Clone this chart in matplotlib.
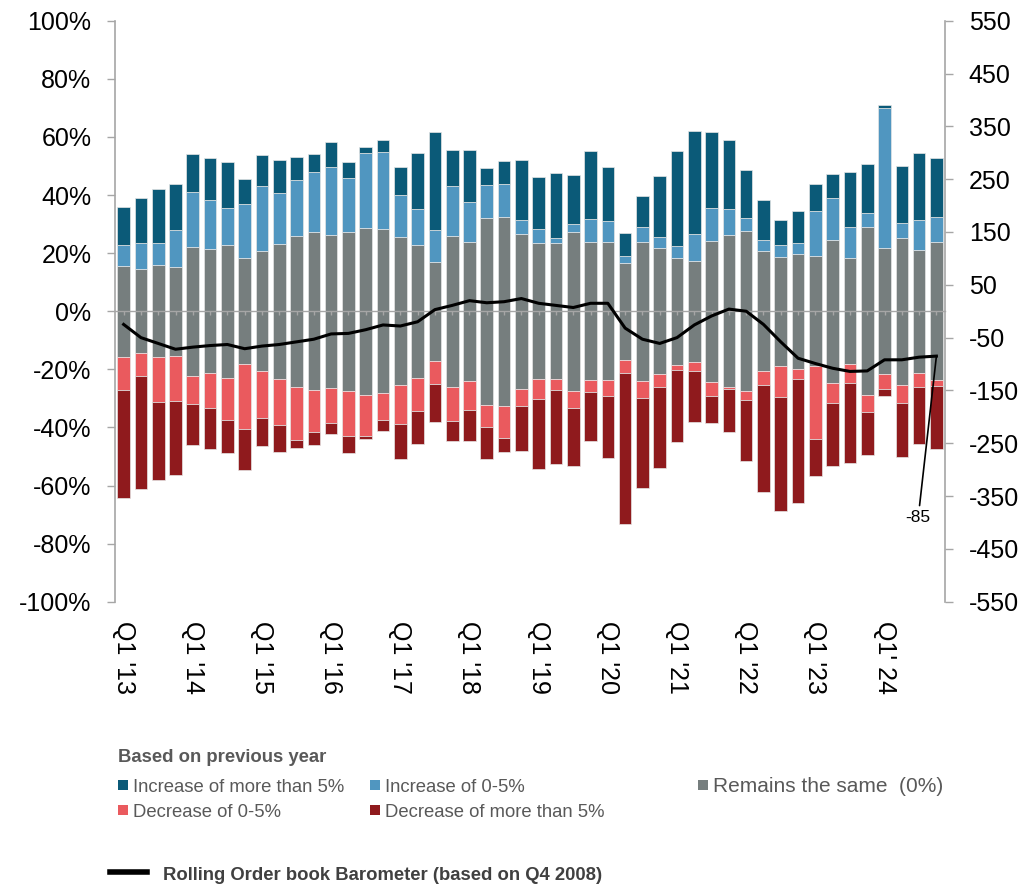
import matplotlib
matplotlib.use('Agg')
import numpy as np
import matplotlib.pyplot as plt
from matplotlib.patches import Rectangle
from matplotlib.lines import Line2D
from matplotlib.ticker import FuncFormatter

plt.rcParams['font.family'] = ['Liberation Sans', 'DejaVu Sans']
plt.rcParams['axes.unicode_minus'] = False

# quarters Q1 2013 .. Q4 2024
quarters = ["Q%d '%02d" % (q, y) for y in range(13, 25) for q in range(1, 5)]
quarters[44] = "Q1' 24"

# share of respondents (%) per answer, per quarter
inc_more_5 = [13.1, 15.3, 18.6, 15.9, 13.1, 14.4, 15.9, 8.9, 10.9, 11.3, 7.8, 6.3,
              8.6, 5.5, 1.9, 4.3, 9.7, 19.3, 33.9, 12.3, 17.8, 6.0, 7.7, 20.6,
              17.7, 22.3, 16.7, 23.7, 18.8, 7.6, 10.6, 21.1, 32.8, 35.7, 26.3, 23.7,
              16.5, 13.8, 8.7, 10.7, 9.3, 8.2, 18.9, 17.0, 1.0, 19.8, 23.1, 20.6]
inc_0_5 = [7.3, 9.2, 7.5, 12.5, 18.7, 17.2, 12.6, 18.6, 22.3, 17.4, 19.1, 20.6,
           23.2, 18.4, 25.8, 26.4, 14.4, 12.2, 10.8, 17.2, 13.8, 11.1, 11.3, 4.7,
           4.9, 1.9, 2.8, 7.9, 7.2, 2.4, 5.1, 3.8, 3.9, 9.1, 11.1, 9.1,
           4.6, 3.7, 3.9, 3.8, 15.5, 14.4, 10.8, 4.8, 48.2, 5.0, 10.3, 8.6]
same = [31.2, 28.8, 31.7, 30.7, 44.4, 42.5, 45.8, 36.3, 41.4, 46.5, 52.1, 54.5,
        52.6, 54.7, 57.6, 56.6, 51.0, 45.8, 34.0, 52.1, 47.8, 64.4, 65.2, 53.3,
        46.9, 46.8, 54.6, 47.4, 47.4, 33.5, 47.7, 43.2, 36.9, 34.7, 48.6, 52.5,
        55.1, 41.4, 37.6, 39.7, 37.7, 49.1, 36.4, 57.7, 43.5, 50.6, 42.2, 47.4]
dec_0_5 = [11.5, 7.8, 15.3, 15.4, 9.6, 12.0, 14.7, 22.3, 16.0, 15.8, 18.4, 14.2,
           12.1, 15.6, 14.1, 9.3, 13.2, 11.6, 8.2, 11.7, 10.2, 7.8, 10.9, 6.1,
           6.7, 3.6, 5.9, 4.0, 5.6, 4.4, 6.0, 4.6, 1.8, 3.4, 5.0, 0.5,
           2.9, 4.7, 10.6, 3.5, 25.0, 7.1, 6.6, 5.7, 5.1, 6.3, 5.0, 2.2]
dec_more_5 = [37.1, 39.1, 27.1, 25.7, 14.3, 14.2, 11.3, 14.1, 9.6, 9.4, 2.8, 4.6,
              3.9, 5.9, 1.0, 3.6, 12.0, 11.2, 13.1, 6.8, 10.5, 10.9, 5.1, 15.5,
              24.0, 25.5, 20.1, 17.1, 21.2, 52.0, 31.0, 27.6, 24.9, 17.3, 9.1, 14.7,
              21.1, 36.7, 39.4, 42.5, 12.7, 21.6, 27.5, 15.0, 2.4, 18.5, 19.7, 21.4]

# rolling order book barometer (Q4 2008 = 0)
barometer = [-25, -50, -61, -72, -68, -65, -63, -71, -66, -63, -58, -53,
             -43, -42, -35, -26, -28, -20, 3, 11, 20, 16, 18, 24,
             15, 11, 7, 15, 15, -32, -53, -61, -50, -26, -9, 4,
             0, -25, -58, -89, -99, -108, -114, -113, -92, -92, -87, -85]

labels = ['Increase of more than 5%', 'Increase of 0-5%', 'Remains the same  (0%)',
          'Decrease of 0-5%', 'Decrease of more than 5%']
colors = ['#0B5A78', '#5096C0', '#767E7E', '#EA5A5E', '#8F1A1D']
axis_grey = '#a6a6a6'
text_grey = '#595959'

fig = plt.figure(figsize=(10.23, 8.84), dpi=100)
fig.subplots_adjust(left=0.1124, right=0.9238, bottom=0.3193, top=0.9766)
ax = fig.add_subplot(111)

x = np.arange(len(quarters))
width = 0.73
s = np.array(same) / 100.0
ib = np.array(inc_0_5) / 100.0
it = np.array(inc_more_5) / 100.0
db = np.array(dec_0_5) / 100.0
dt = np.array(dec_more_5) / 100.0

# "remains the same" straddles the zero line, rises stack up, falls stack down
kw = dict(width=width, edgecolor='#e6e6e6', linewidth=0.5, zorder=1)
ax.bar(x, s, bottom=-s / 2, color=colors[2], **kw)
ax.bar(x, ib, bottom=s / 2, color=colors[1], **kw)
ax.bar(x, it, bottom=s / 2 + ib, color=colors[0], **kw)
ax.bar(x, -db, bottom=-s / 2, color=colors[3], **kw)
ax.bar(x, -dt, bottom=-s / 2 - db, color=colors[4], **kw)

ax.set_xlim(-0.5, len(quarters) - 0.5)
ax.set_ylim(-1, 1)
ax.set_yticks(np.arange(-1, 1.001, 0.2))
ax.yaxis.set_major_formatter(FuncFormatter(lambda v, p: '%d%%' % round(v * 100)))
ax.tick_params(axis='y', labelsize=18, length=6, width=1, color=axis_grey, pad=11)

ax.spines['top'].set_visible(False)
ax.spines['right'].set_visible(False)
ax.spines['left'].set_color(axis_grey)
ax.spines['left'].set_linewidth(1.2)
ax.spines['bottom'].set_position(('data', 0))
ax.spines['bottom'].set_color(axis_grey)
ax.spines['bottom'].set_linewidth(1.0)
ax.set_xticks(x)
ax.tick_params(axis='x', length=3, width=1, color=axis_grey, labelbottom=False)

for i, q in enumerate(quarters):
    if q.startswith('Q1'):
        ax.text(i, -0.033, q, transform=ax.get_xaxis_transform(), rotation=-90,
                ha='center', va='top', fontsize=18)

ax2 = ax.twinx()
ax2.plot(x, barometer, color='black', linewidth=2.2, solid_joinstyle='round', zorder=3)
ax2.set_ylim(-550, 550)
ax2.set_yticks(np.arange(-550, 551, 100))
ax2.tick_params(axis='y', labelsize=18, length=6, width=1, color=axis_grey, pad=11)
for side in ['top', 'left', 'bottom']:
    ax2.spines[side].set_visible(False)
ax2.spines['right'].set_color(axis_grey)
ax2.spines['right'].set_linewidth(1.2)
ax2.annotate('%d' % barometer[-1], xy=(x[-1], barometer[-1]), xytext=(45.95, -390),
             ha='center', va='center', fontsize=12.5,
             arrowprops=dict(arrowstyle='-', color='black', lw=1.2, shrinkA=1, shrinkB=0))

# legend, laid out by hand in pixel positions
W, H = 1023.0, 884.0
def fx(px): return px / W
def fy(py): return 1 - py / H

fig.text(fx(118), fy(762), 'Based on previous year', fontsize=13.3, fontweight='bold',
         color=text_grey, va='baseline')
slots = [(118, 792), (370, 792), (698, 792), (118, 817), (370, 817)]
sizes = [13.3, 13.3, 15, 13.3, 13.3]
for (px, py), lab, col, fs in zip(slots, labels, colors, sizes):
    fig.patches.append(Rectangle((fx(px), fy(py - 2)), fx(10), 10 / H,
                                 transform=fig.transFigure, facecolor=col,
                                 edgecolor='none'))
    fig.text(fx(px + 15), fy(py), lab, fontsize=fs, color=text_grey, va='baseline')

fig.lines.append(Line2D([fx(110), fx(147)], [fy(872), fy(872)], transform=fig.transFigure,
                        color='black', linewidth=4))
fig.text(fx(163), fy(880), 'Rolling Order book Barometer (based on Q4 2008)',
         fontsize=13.3, fontweight='bold', color='#404040', va='baseline')

plt.savefig('out.png', dpi=100)
